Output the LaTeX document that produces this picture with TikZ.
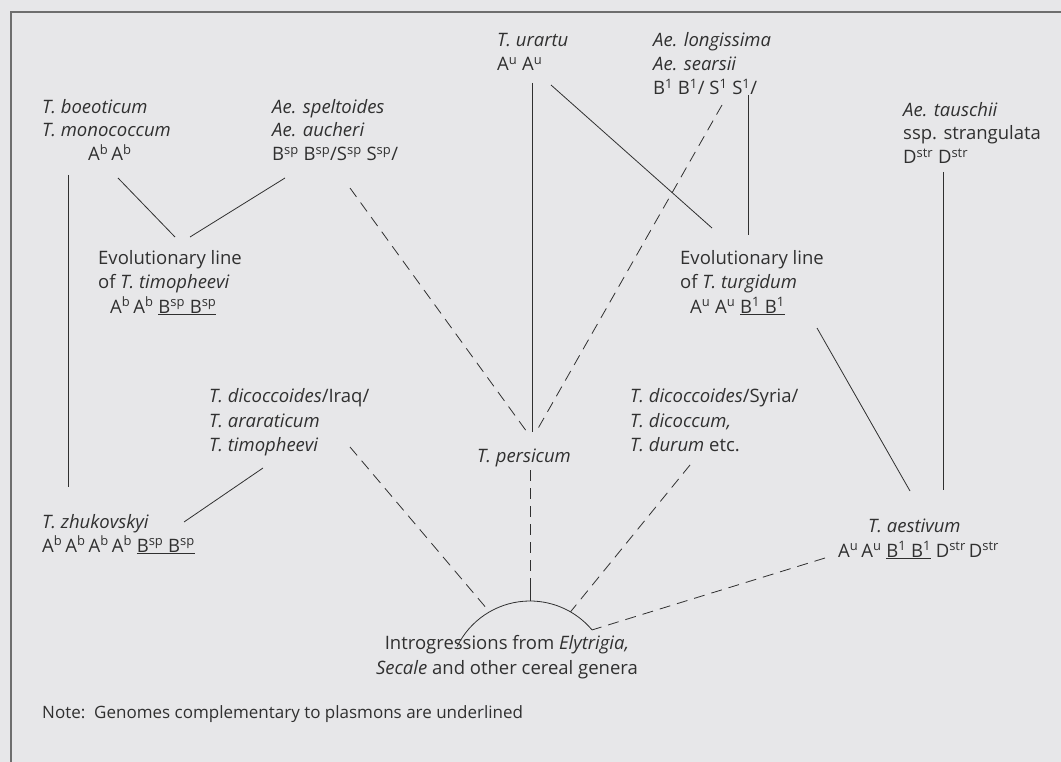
\documentclass[tikz,border=0pt]{standalone}
\usepackage{fontspec}
\setmainfont{Open Sans}
\usetikzlibrary{calc}
\definecolor{bg}{RGB}{231,231,233}
\definecolor{ink}{RGB}{48,48,48}
\definecolor{frame}{RGB}{110,110,110}
\newcommand{\gn}[2]{#1\textsuperscript{#2}}
\begin{document}
\begin{tikzpicture}[x=1pt,y=-1pt,
  txt/.style={inner sep=0pt, anchor=base west, text=ink, font=\fontsize{18.5}{24}\selectfont},
  ctxt/.style={txt, anchor=base},
  ln/.style={draw=ink, line width=0.8pt},
  dsh/.style={ln, dash pattern=on 11pt off 7pt}]
\useasboundingbox (0,0) rectangle (1061,762);
\fill[bg] (0,0) rectangle (1061,762);
\draw[frame, line width=1.1pt] (11,762) -- (11,12) -- (1061,12);

% texts
\node[txt] (boeo1) at (42,114) {\itshape T. boeoticum};
\node[txt] (boeo2) at (42,137) {\itshape T. monococcum};
\node[txt] (boeoG) at (88,161) {\gn{A}{b}\,\gn{A}{b}};
\node[txt] (spel1) at (272,114) {\itshape Ae. speltoides};
\node[txt] (spel2) at (272,137) {\itshape Ae. aucheri};
\node[txt] (spelG) at (272,161) {\gn{B}{sp} \gn{B}{sp}/\gn{S}{sp} \gn{S}{sp}/};
\node[txt] (urar1) at (497,47) {\itshape T. urartu};
\node[txt] (urarG) at (497,71) {\gn{A}{u} \gn{A}{u}};
\node[txt] (long1) at (653,47) {\itshape Ae. longissima};
\node[txt] (long2) at (653,71) {\itshape Ae. searsii};
\node[txt] (longG) at (653,95) {\gn{B}{1} \gn{B}{1}/ \gn{S}{1} \gn{S}{1}/};
\node[txt] (taus1) at (903,117) {\itshape Ae. tauschii};
\node[txt] (taus2) at (903,140) {ssp. strangulata};
\node[txt] (tausG) at (903,164) {\gn{D}{str} \gn{D}{str}};
\node[txt] (evl1) at (98,265) {Evolutionary line};
\node[txt] (evl2) at (98,289) {of \textit{T. timopheevi}};
\node[txt] (evlG) at (110,313) {\gn{A}{b}\,\gn{A}{b} \underline{\gn{B}{sp} \gn{B}{sp}}};
\node[txt] (evr1) at (680,265) {Evolutionary line};
\node[txt] (evr2) at (680,289) {of \textit{T. turgidum}};
\node[txt] (evrG) at (690,313) {\gn{A}{u} \gn{A}{u} \underline{\gn{B}{1} \gn{B}{1}}};
\node[txt] (iraq1) at (209,402) {\textit{T. dicoccoides}/Iraq/};
\node[txt] (iraq2) at (209,427) {\itshape T. araraticum};
\node[txt] (iraq3) at (209,451) {\itshape T. timopheevi};
\node[txt] (syr1) at (630,402) {\textit{T. dicoccoides}/Syria/};
\node[txt] (syr2) at (630,427) {\itshape T. dicoccum,};
\node[txt] (syr3) at (630,451) {\textit{T. durum} etc.};
\node[ctxt] (pers) at (524,462) {\itshape T. persicum};
\node[txt] (zhu1) at (42,528) {\itshape T. zhukovskyi};
\node[txt] (zhuG) at (42,552) {\gn{A}{b}\,\gn{A}{b}\,\gn{A}{b}\,\gn{A}{b} \underline{\gn{B}{sp} \gn{B}{sp}}};
\node[txt] (aes1) at (868,532) {\itshape T. aestivum};
\node[txt] (aesG) at (838,557) {\gn{A}{u}\,\gn{A}{u} \underline{\gn{B}{1} \gn{B}{1}} \gn{D}{str}\,\gn{D}{str}};
\node[ctxt] (intro1) at (507,649) {Introgressions from \textit{Elytrigia,}};
\node[ctxt] (intro2) at (507,674) {\textit{Secale} and other cereal genera};
\node[txt, font=\fontsize{17}{24}\selectfont] (note) at (42,718) {Note:\ \ Genomes complementary to plasmons are underlined};

% connector end points
\coordinate (c1a) at (68,175);  \coordinate (c1b) at (68,487);
\coordinate (c2a) at (118,178); \coordinate (c2b) at (175,237);
\coordinate (c3a) at (285,178); \coordinate (c3b) at (190,237);
\coordinate (c4a) at (350,188); \coordinate (c4b) at (527,432);
\coordinate (c5a) at (532,83);  \coordinate (c5b) at (532,432);
\coordinate (c6a) at (551,85);  \coordinate (c6b) at (712,228);
\coordinate (c7a) at (722,105); \coordinate (c7b) at (536,432);
\coordinate (c8a) at (748,95);  \coordinate (c8b) at (748,235);
\coordinate (c9a) at (943,172); \coordinate (c9b) at (943,490);
\coordinate (c10a) at (817,328); \coordinate (c10b) at (910,491);
\coordinate (c11a) at (690,465);
\coordinate (c12a) at (825,558);
\coordinate (c13a) at (530,470); \coordinate (c13m) at (530,585);
\coordinate (c14a) at (350,447);
\coordinate (c15a) at (263,468); \coordinate (c15b) at (184,522);
\coordinate (arcC) at (530,682);
\coordinate (aL) at ($(arcC)+(-154:81)$);
\coordinate (a120) at ($(arcC)+(-120:81)$);
\coordinate (a90) at ($(arcC)+(-90:81)$);
\coordinate (a60) at ($(arcC)+(-60:81)$);
\coordinate (aR) at ($(arcC)+(-40:81)$);

% connectors
\draw[ln] (c1a) -- (c1b);
\draw[ln] (c2a) -- (c2b);
\draw[ln] (c3a) -- (c3b);
\draw[dsh] (c4a) -- (c4b);
\draw[ln] (c5a) -- (c5b);
\draw[ln] (c6a) -- (c6b);
\draw[dsh] (c7a) -- (c7b);
\draw[ln] (c8a) -- (c8b);
\draw[ln] (c9a) -- (c9b);
\draw[ln] (c10a) -- (c10b);
\draw[dsh] (c11a) -- (a60);
\draw[dsh] (c12a) -- (aR);
\draw[dsh] (c13a) -- (c13m);
\draw[ln] (c13m) -- (a90);
\draw[dsh] (c14a) -- (a120);
\draw[ln] (c15a) -- (c15b);
\draw[ln] (aL) arc[start angle=-154, end angle=-40, radius=81];
\end{tikzpicture}
\end{document}
